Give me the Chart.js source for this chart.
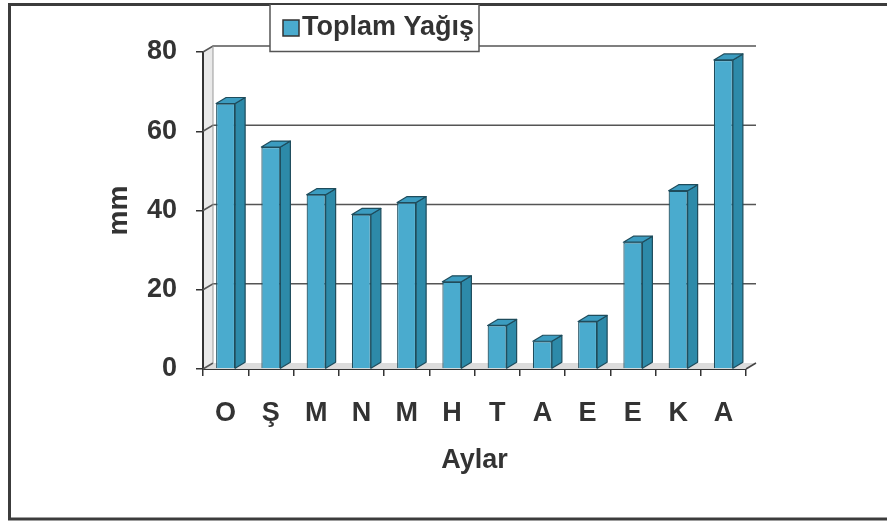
<!DOCTYPE html>
<html><head><meta charset="utf-8">
<script src="https://cdn.jsdelivr.net/npm/chart.js@4"></script>
<style>html,body{margin:0;padding:0;background:#fff;}canvas{display:block;}</style>
</head><body>
<canvas id="c" width="887" height="523"></canvas>
<script>
// ---- data ----
const categories = ['O', 'Ş', 'M', 'N', 'M', 'H', 'T', 'A', 'E', 'E', 'K', 'A'];
const rainfall = [67, 56, 44, 39, 42, 22, 11, 7, 12, 32, 45, 78];
const seriesName = 'Toplam Yağış';
const yAxisTitle = 'mm';
const xAxisTitle = 'Aylar';
const yMin = 0, yMax = 80, yStep = 20;

// ---- style ----
const FONT = "'Liberation Sans', Arial, sans-serif";
const DX = 10, DY = -6;           // 3D depth offset
const FRONT = '#4aabce', SIDE = '#2d8aa9', TOP = '#3b9cc0', EDGE = '#1e4c5c';
const INK = '#333333';

const wallsPlugin = {
  id: 'walls',
  beforeDraw(chart) {
    const ctx = chart.ctx;
    ctx.save();
    ctx.fillStyle = '#fff';
    ctx.fillRect(0, 0, chart.width, chart.height);
    ctx.restore();
  },
  beforeDatasetsDraw(chart) {
    const {ctx, chartArea: a, scales: {y}} = chart;
    ctx.save();
    // left wall
    ctx.fillStyle = '#e9e9e9';
    ctx.beginPath();
    ctx.moveTo(a.left + 1, a.top); ctx.lineTo(a.left + DX, a.top + DY);
    ctx.lineTo(a.left + DX, a.bottom + DY); ctx.lineTo(a.left + 1, a.bottom);
    ctx.closePath(); ctx.fill();
    // floor
    ctx.fillStyle = '#dcdcdc';
    ctx.beginPath();
    ctx.moveTo(a.left, a.bottom); ctx.lineTo(a.left + DX, a.bottom + DY);
    ctx.lineTo(a.right + DX, a.bottom + DY); ctx.lineTo(a.right, a.bottom);
    ctx.closePath(); ctx.fill();
    // back wall grid lines + left wall diagonals
    ctx.strokeStyle = '#555';
    ctx.lineWidth = 1.5;
    for (let v = yMin; v <= yMax; v += yStep) {
      const py = y.getPixelForValue(v);
      ctx.beginPath();
      ctx.moveTo(a.left, py); ctx.lineTo(a.left + DX, py + DY);
      if (v > yMin) ctx.lineTo(a.right + DX, py + DY);
      ctx.stroke();
    }
    // back wall left edge
    ctx.strokeStyle = '#999';
    ctx.lineWidth = 1;
    ctx.beginPath();
    ctx.moveTo(a.left + DX, a.top + DY); ctx.lineTo(a.left + DX, a.bottom + DY);
    ctx.stroke();
    // floor right edge
    ctx.strokeStyle = '#444';
    ctx.lineWidth = 1.5;
    ctx.beginPath();
    ctx.moveTo(a.right, a.bottom); ctx.lineTo(a.right + DX, a.bottom + DY);
    ctx.stroke();
    ctx.restore();
  },
  afterDatasetsDraw(chart) {
    const ctx = chart.ctx;
    const meta = chart.getDatasetMeta(0);
    ctx.save();
    ctx.lineWidth = 1.2;
    ctx.strokeStyle = EDGE;
    ctx.lineJoin = 'round';
    meta.data.forEach(bar => {
      const {x, y, base, width} = bar.getProps(['x', 'y', 'base', 'width'], true);
      const l = x - width / 2, r = x + width / 2;
      // side face
      ctx.fillStyle = SIDE;
      ctx.beginPath();
      ctx.moveTo(r, y); ctx.lineTo(r + DX, y + DY);
      ctx.lineTo(r + DX, base + DY); ctx.lineTo(r, base);
      ctx.closePath(); ctx.fill(); ctx.stroke();
      // top face
      ctx.fillStyle = TOP;
      ctx.beginPath();
      ctx.moveTo(l, y); ctx.lineTo(l + DX, y + DY);
      ctx.lineTo(r + DX, y + DY); ctx.lineTo(r, y);
      ctx.closePath(); ctx.fill(); ctx.stroke();
    });
    ctx.restore();
  },
  afterDraw(chart) {
    const ctx = chart.ctx;
    ctx.save();
    // outer frame
    ctx.strokeStyle = '#3c3c3c';
    ctx.lineWidth = 3;
    ctx.strokeRect(9.5, 4.5, 890, 514.5);
    // legend box
    ctx.fillStyle = '#fff';
    ctx.fillRect(270, 5, 209, 47);
    ctx.strokeStyle = '#555';
    ctx.lineWidth = 1.5;
    ctx.beginPath();
    ctx.moveTo(270, 4); ctx.lineTo(270, 51.5); ctx.lineTo(479, 51.5); ctx.lineTo(479, 4);
    ctx.stroke();
    ctx.fillStyle = FRONT;
    ctx.fillRect(283, 20, 16, 16);
    ctx.strokeStyle = '#333';
    ctx.lineWidth = 1.5;
    ctx.strokeRect(283, 20, 16, 16);
    ctx.fillStyle = INK;
    ctx.font = 'bold 27px ' + FONT;
    ctx.textBaseline = 'middle';
    ctx.textAlign = 'left';
    ctx.fillText(chart.data.datasets[0].label, 302, 28);
    ctx.restore();
  }
};

new Chart(document.getElementById('c'), {
  type: 'bar',
  data: {
    labels: categories,
    datasets: [{
      label: seriesName,
      data: rainfall,
      backgroundColor: FRONT,
      borderColor: EDGE,
      borderWidth: 1.2,
      barPercentage: 0.42,
      categoryPercentage: 1.0
    }]
  },
  options: {
    responsive: false,
    devicePixelRatio: 1,
    animation: false,
    layout: {padding: {left: 0, top: 52, right: 141, bottom: 0}},
    plugins: {legend: {display: false}, tooltip: {enabled: false}},
    scales: {
      y: {
        min: yMin, max: yMax,
        ticks: {stepSize: yStep, color: INK, font: {family: FONT, size: 27, weight: 'bold'}, padding: 19},
        grid: {drawOnChartArea: false, drawTicks: true, tickLength: 7, color: '#333', lineWidth: 1.5},
        border: {display: true, color: '#333', width: 2},
        title: {display: true, text: yAxisTitle, color: INK, font: {family: FONT, size: 28, weight: 'bold'}, padding: {top: 102, bottom: 0}},
        afterFit(s) { s.width = 203; }
      },
      x: {
        ticks: {color: INK, font: {family: FONT, size: 27, weight: 'bold'}, padding: 21},
        grid: {drawOnChartArea: false, drawTicks: true, tickLength: 7, color: '#333', lineWidth: 1.5, offset: true},
        border: {display: true, color: '#333', width: 2},
        title: {display: true, text: xAxisTitle, color: INK, font: {family: FONT, size: 27, weight: 'bold'}, padding: {top: 0, bottom: 46}},
        afterFit(s) { s.height = 154; }
      }
    }
  },
  plugins: [wallsPlugin]
});
</script>
</body></html>
